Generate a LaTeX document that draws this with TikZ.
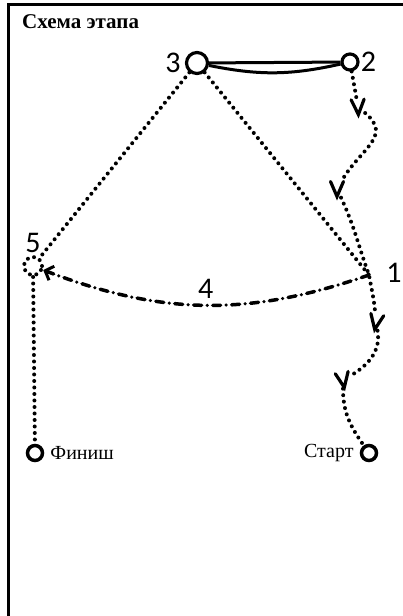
\documentclass[tikz,border=0pt]{standalone}
\usepackage{fontspec}
\setmainfont{Liberation Serif}
\newfontfamily\digitfont{Carlito}
\usetikzlibrary{arrows.meta, positioning}

\tikzset{
    vee/.pic={\draw[line width=3.2pt, line join=miter, line cap=round] (-6.5,7.5) -- (0,-7.5) -- (6.5,7.5);}
}

\begin{document}
\begin{tikzpicture}[x=1pt, y=1pt,
        cp/.style={circle, draw, line width=3.2pt, inner sep=0pt},
        num/.style={font=\digitfont\fontsize{30}{30}\selectfont, inner sep=1pt},
        vbox/.style={rectangle, minimum width=14pt, minimum height=17pt, inner sep=0pt},
        word/.style={font=\fontsize{20}{24}\selectfont, inner sep=0pt},
        route/.style={line width=4pt, line cap=round, dash pattern=on 0pt off 6.5pt},
        trail/.style={line width=3.5pt, line cap=round, dash pattern=on 8pt off 5.5pt on 0pt off 5.5pt},
        leg/.style={line width=3pt}]
        \useasboundingbox (0,0) rectangle (403,-616);
        \draw[line width=3pt] (8,-616) -- (8,-4) -- (403,-4);

        \node (title) [anchor=base west, inner sep=0pt, font=\bfseries\fontsize{21}{24}\selectfont] at (22,-28) {Схема этапа};

        \node (three) [cp, minimum size=21pt] at (197,-63) {};
        \node (two) [cp, minimum size=16pt] at (350,-62) {};
        \node (five) [circle, draw, route, minimum size=18pt, inner sep=0pt] at (33,-266) {};
        \coordinate (one) at (369,-275);
        \node (finish) [cp, line width=3.5pt, minimum size=15pt] at (35,-453) {};
        \node (start) [cp, line width=3.5pt, minimum size=15pt] at (369,-453) {};

        \node (lthree) [num, left=3pt of three] {3};
        \node (ltwo) [num, right=0pt of two] {2};
        \node (lfive) [num, above=1pt of five] {5};
        \node (lone) [num] at (394,-273) {1};
        \node (lfinish) [word, right=6pt of finish] {Финиш};
        \node (lstart) [word, left=6pt of start] {Старт};

        \node (v1) [vbox] at (358,-107) {};
        \node (v2) [vbox] at (337,-189) {};
        \node (v3) [vbox] at (376,-322) {};
        \node (v4) [vbox] at (343,-380) {};
        \pic [rotate=3] at (v1) {vee};
        \pic [rotate=0] at (v2) {vee};
        \pic [rotate=-10] at (v3) {vee};
        \pic [rotate=10] at (v4) {vee};

        \draw[leg] (three) -- (two);
        \draw[leg] (three) to[bend right=12] (two);

        \draw[route] (three) -- (five);
        \draw[route] (three) -- (one);
        \draw[route] (five) -- (finish);
        \draw[route] (two) to[out=-80, in=100] (v1)
            to[out=-40, in=60, looseness=1.3] (v2)
            to[out=-65, in=110] (one)
            to[out=-80, in=95] (v3)
            to[out=-80, in=30] (v4)
            to[out=-90, in=125] (start);

        \draw[trail, -{Straight Barb[length=7pt, width=15pt, line width=3pt]}] (one) to[bend left=20] node[num, midway, above=4pt] (lfour) {4} (five);
    \end{tikzpicture}
\end{document}
